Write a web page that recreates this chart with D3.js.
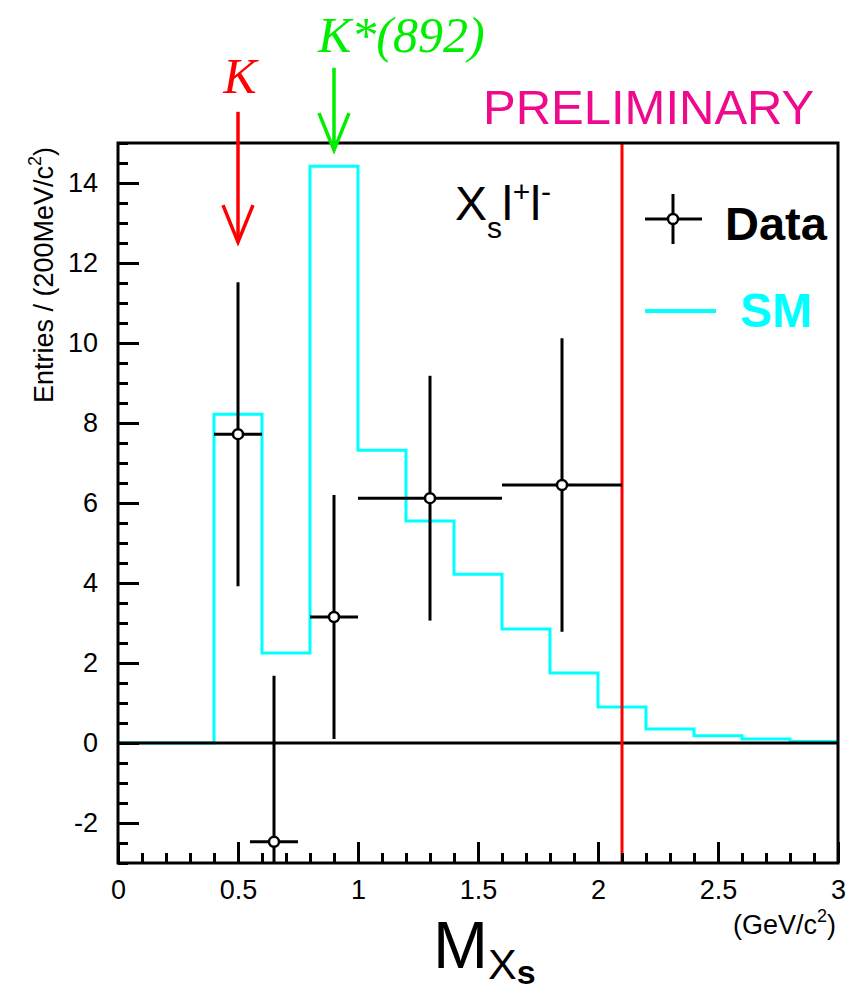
<!DOCTYPE html>
<html>
<head>
<meta charset="utf-8">
<script src="https://cdn.jsdelivr.net/npm/d3@7"></script>
<style>
  body { margin: 0; background: #fff; }
  text { font-family: "Liberation Sans", Arial, sans-serif; }
</style>
</head>
<body>
<div id="container"></div>
<script>
/* DATA */
// SM histogram, 0.2 GeV bins
const smBinLow = [0, 0.2, 0.4, 0.6, 0.8, 1.0, 1.2, 1.4, 1.6, 1.8, 2.0, 2.2, 2.4, 2.6, 2.8]
const smValues = [0, 0, 8.22, 2.25, 14.42, 7.32, 5.55, 4.22, 2.85, 1.75, 0.9, 0.35, 0.18, 0.1, 0.04]
const smBinWidth = 0.2

// data points
const dataX = [0.5, 0.65, 0.9, 1.3, 1.85]
const dataY = [7.72, -2.47, 3.15, 6.12, 6.45]
const dataXErr = [0.1, 0.1, 0.1, 0.3, 0.25]
const dataYErr = [3.8, 4.15, 3.05, 3.06, 3.67]

const xTicks = [0, 0.5, 1, 1.5, 2, 2.5, 3]
const yTicks = [-2, 0, 2, 4, 6, 8, 10, 12, 14]
const cutX = 2.1

/* CONSTANTS */
const width = 850
const height = 993
const padL = 118, padR = 838, padT = 143, padB = 863

const svg = d3.select("#container")
    .append("svg")
    .attr("width", width)
    .attr("height", height)

/* SCALES */
const xScale = d3.scaleLinear().domain([0, 3]).range([padL, padR])
const yScale = d3.scaleLinear().domain([-3, 15]).range([padB, padT])

// SM histogram as a step line
const smPoints = smBinLow.map((d, i) => [d, smValues[i]])
smPoints.push([smBinLow[smBinLow.length - 1] + smBinWidth, smValues[smValues.length - 1]])

const stepLine = d3.line()
    .x(d => xScale(d[0]))
    .y(d => yScale(d[1]))
    .curve(d3.curveStepAfter)

svg.append("path")
    .datum(smPoints)
    .attr("d", stepLine)
    .attr("fill", "none")
    .attr("stroke", "#00ffff")
    .attr("stroke-width", 3)

// zero line
svg.append("line")
    .attr("x1", xScale(0)).attr("x2", xScale(3))
    .attr("y1", yScale(0)).attr("y2", yScale(0))
    .attr("stroke", "black").attr("stroke-width", 3)

// cut line
svg.append("line")
    .attr("x1", xScale(cutX)).attr("x2", xScale(cutX))
    .attr("y1", yScale(15)).attr("y2", yScale(-3))
    .attr("stroke", "red").attr("stroke-width", 3)

/* AXES */
const majorLen = 21, minorLen = 10
const plainFmt = d => String(d)

svg.append("g")
    .attr("transform", `translate(0,${padB})`)
    .call(d3.axisBottom(xScale).tickValues(d3.range(0, 3.001, 0.1)).tickSize(-minorLen).tickFormat(""))
    .call(g => g.select(".domain").remove())
svg.append("g")
    .attr("class", "xaxis")
    .attr("transform", `translate(0,${padB})`)
    .call(d3.axisBottom(xScale).tickValues(xTicks).tickSize(-majorLen).tickPadding(12).tickFormat(plainFmt))
    .call(g => g.select(".domain").remove())

svg.append("g")
    .attr("transform", `translate(${padL},0)`)
    .call(d3.axisLeft(yScale).tickValues(d3.range(-3, 15.001, 0.5)).tickSize(-minorLen).tickFormat(""))
    .call(g => g.select(".domain").remove())
svg.append("g")
    .attr("class", "yaxis")
    .attr("transform", `translate(${padL},0)`)
    .call(d3.axisLeft(yScale).tickValues(yTicks).tickSize(-majorLen).tickPadding(20).tickFormat(plainFmt))
    .call(g => g.select(".domain").remove())

svg.selectAll(".tick line").attr("stroke", "black").attr("stroke-width", 3)
svg.selectAll(".xaxis text").attr("font-size", 27).attr("dy", "0.9em").attr("fill", "black")
svg.selectAll(".yaxis text").attr("font-size", 27).attr("fill", "black")

// frame
svg.append("rect")
    .attr("x", padL).attr("y", padT)
    .attr("width", padR - padL).attr("height", padB - padT)
    .attr("fill", "none").attr("stroke", "black").attr("stroke-width", 3)

/* DATA POINTS */
const clip = svg.append("clipPath").attr("id", "plotclip")
clip.append("rect").attr("x", padL).attr("y", padT).attr("width", padR - padL).attr("height", padB - padT)

const pts = svg.append("g").attr("clip-path", "url(#plotclip)")
    .selectAll("g")
    .data(dataX.map((d, i) => ({ x: d, y: dataY[i], ex: dataXErr[i], ey: dataYErr[i] })))
    .join("g")

pts.append("line")
    .attr("x1", d => xScale(d.x - d.ex)).attr("x2", d => xScale(d.x + d.ex))
    .attr("y1", d => yScale(d.y)).attr("y2", d => yScale(d.y))
    .attr("stroke", "black").attr("stroke-width", 3)
pts.append("line")
    .attr("x1", d => xScale(d.x)).attr("x2", d => xScale(d.x))
    .attr("y1", d => yScale(d.y - d.ey)).attr("y2", d => yScale(d.y + d.ey))
    .attr("stroke", "black").attr("stroke-width", 3)
pts.append("circle")
    .attr("cx", d => xScale(d.x)).attr("cy", d => yScale(d.y))
    .attr("r", 5)
    .attr("fill", "white").attr("stroke", "black").attr("stroke-width", 2.5)

/* ARROWS */
function arrow(xv, y0, y1, color) {
    const x = xScale(xv)
    svg.append("line")
        .attr("x1", x).attr("x2", x)
        .attr("y1", yScale(y0)).attr("y2", yScale(y1))
        .attr("stroke", color).attr("stroke-width", 3.5)
    const tip = yScale(y1)
    svg.append("polyline")
        .attr("points", `${x - 15},${tip - 37} ${x},${tip} ${x + 15},${tip - 37}`)
        .attr("fill", "none").attr("stroke", color).attr("stroke-width", 3.5)
}
arrow(0.5, 15.78, 12.52, "red")
arrow(0.9, 16.88, 14.82, "#00ee00")

svg.append("text")
    .attr("x", xScale(0.5) + 2).attr("y", 93)
    .attr("text-anchor", "middle")
    .style("font-family", "'Liberation Serif', 'Times New Roman', serif")
    .style("font-style", "italic")
    .attr("font-size", 50)
    .attr("fill", "red")
    .text("K")

svg.append("text")
    .attr("x", 318).attr("y", 52)
    .style("font-family", "'Liberation Serif', 'Times New Roman', serif")
    .style("font-style", "italic")
    .attr("font-size", 50)
    .attr("fill", "#00ee00")
    .text("K*(892)")

/* LABELS */
svg.append("text")
    .attr("x", 483).attr("y", 124)
    .attr("font-size", 49)
    .attr("fill", "#ee0a8c")
    .text("PRELIMINARY")

const proc = svg.append("text")
    .attr("x", 455).attr("y", 220)
    .attr("font-size", 48)
    .attr("fill", "black")
proc.append("tspan").text("X")
proc.append("tspan").attr("font-size", 30).attr("dy", 18).text("s")
proc.append("tspan").attr("dy", -18).text("l")
proc.append("tspan").attr("font-size", 30).attr("dy", -18).text("+")
proc.append("tspan").attr("dy", 18).text("l")
proc.append("tspan").attr("font-size", 30).attr("dy", -18).text("-")

// legend
const lg = svg.append("g")
lg.append("line").attr("x1", 645).attr("x2", 702).attr("y1", 219).attr("y2", 219)
    .attr("stroke", "black").attr("stroke-width", 3)
lg.append("line").attr("x1", 673).attr("x2", 673).attr("y1", 194).attr("y2", 244)
    .attr("stroke", "black").attr("stroke-width", 3)
lg.append("circle").attr("cx", 673).attr("cy", 219).attr("r", 5)
    .attr("fill", "white").attr("stroke", "black").attr("stroke-width", 2.5)
lg.append("text").attr("x", 725).attr("y", 240)
    .attr("font-size", 47).attr("font-weight", "bold").attr("fill", "black")
    .text("Data")
lg.append("line").attr("x1", 645).attr("x2", 716).attr("y1", 311).attr("y2", 311)
    .attr("stroke", "#00ffff").attr("stroke-width", 4)
lg.append("text").attr("x", 740).attr("y", 327)
    .attr("font-size", 48).attr("font-weight", "bold").attr("fill", "#00ffff")
    .text("SM")

// y title
const yt = svg.append("text")
    .attr("transform", "translate(53,275) rotate(-90)")
    .attr("text-anchor", "middle")
    .attr("font-size", 27)
    .attr("fill", "black")
yt.append("tspan").text("Entries / (200MeV/c")
yt.append("tspan").attr("font-size", 18).attr("dy", -12).text("2")
yt.append("tspan").attr("dy", 12).text(")")

// x title
const xt = svg.append("text")
    .attr("x", 433).attr("y", 968)
    .attr("font-size", 66)
    .attr("fill", "black")
xt.append("tspan").text("M")
xt.append("tspan").attr("font-size", 43).attr("dy", 11).text("X")
xt.append("tspan").attr("font-size", 34).attr("font-weight", "bold").attr("dy", 5).text("s")

const unit = svg.append("text")
    .attr("x", 836).attr("y", 934)
    .attr("text-anchor", "end")
    .attr("font-size", 27)
    .attr("fill", "black")
unit.append("tspan").text("(GeV/c")
unit.append("tspan").attr("font-size", 18).attr("dy", -12).text("2")
unit.append("tspan").attr("dy", 12).text(")")
</script>
</body>
</html>
